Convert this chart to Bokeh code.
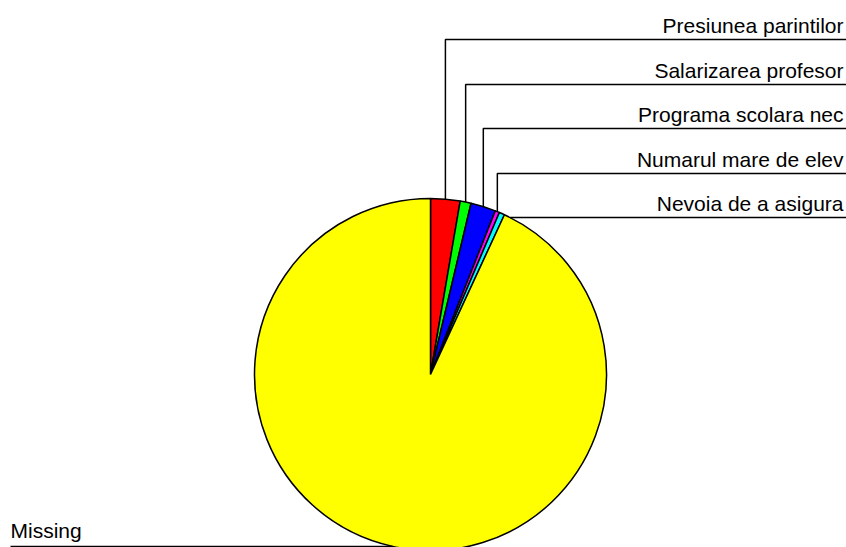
import math
from bokeh.plotting import figure
from bokeh.models import ColumnDataSource
from bokeh.core.properties import value
from bokeh.embed import file_html
from bokeh.resources import INLINE

# ---- data ----
labels = ["Presiunea parintilor", "Salarizarea profesor", "Programa scolara nec",
          "Numarul mare de elev", "Nevoia de a asigura", "Missing"]
percents = [2.7, 1.0, 2.3, 0.4, 0.5, 93.1]
colors = ["#FF0000", "#00FF00", "#0000FF", "#FF00FF", "#00FFFF", "#FFFF00"]

W, H = 846, 547
CX, CY = 430, H - 374
R = 176

p = figure(width=W, height=H, x_range=(0, W), y_range=(0, H),
           output_backend="svg", toolbar_location=None,
           x_axis_location=None, y_axis_location=None, min_border=0)
p.grid.visible = False
p.outline_line_color = None
p.background_fill_color = "white"
p.border_fill_color = "white"

total = sum(percents)
starts, ends, mids = [], [], []
cum = 0.0
for v in percents:
    a0 = cum / total * 2 * math.pi
    cum += v
    a1 = cum / total * 2 * math.pi
    starts.append(math.pi / 2 - a0)
    ends.append(math.pi / 2 - a1)
    mids.append((a0 + a1) / 2)

src = ColumnDataSource(dict(start=starts, end=ends, color=colors))
p.wedge(x=CX, y=CY, radius=R, start_angle="start", end_angle="end",
        direction="clock", fill_color="color", line_color="black",
        line_width=1.5, source=src)

# leader lines and labels
label_line_y = [39, 84, 128, 173, 217]  # screen y of label lines (right side)
font = value("Liberation Sans")
for i in range(5):
    m = mids[i]
    ex = CX + R * math.sin(m)
    ey = CY + R * math.cos(m)
    ly = H - label_line_y[i]
    if ly >= ey:
        xs = [ex, ex, W]
        ys = [ey, ly, ly]
    else:
        xs0 = CX + math.sqrt(max(R * R - (ly - CY) ** 2, 0))
        xs = [xs0, W]
        ys = [ly, ly]
    p.line(xs, ys, line_color="black", line_width=1.5)
    p.text(x=[W - 3], y=[ly + 14], text=[labels[i]], text_font=font,
           text_font_size="21px", text_align="right", text_baseline="alphabetic",
           text_color="black")

# Missing label on left
m = mids[5]
ex = CX + R * math.sin(m)
ey = CY + R * math.cos(m)
p.line([ex, 10], [ey, ey], line_color="black", line_width=1.5)
p.text(x=[10], y=[ey + 16], text=[labels[5]], text_font=font,
       text_font_size="21px", text_align="left", text_baseline="alphabetic",
       text_color="black")

open("out.html", "w").write(file_html(p, INLINE))
